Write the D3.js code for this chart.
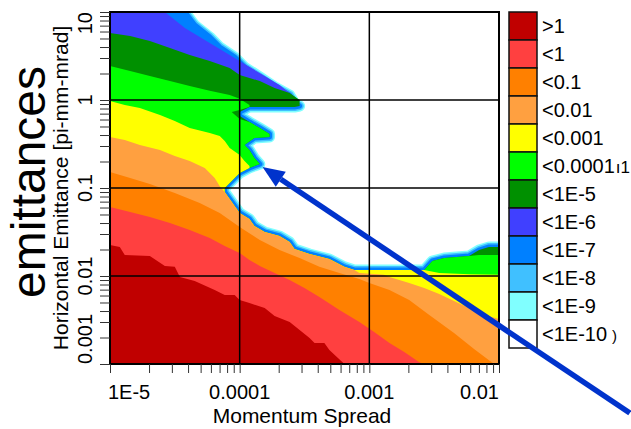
<!DOCTYPE html>
<html>
<head>
<meta charset="utf-8">
<script src="https://cdn.jsdelivr.net/npm/d3@7"></script>
<style>
  body { margin: 0; background: #fff; }
  svg { display: block; font-family: "Liberation Sans", Arial, sans-serif; }
</style>
</head>
<body>
<svg id="chart" width="631" height="429"></svg>
<script>
// axis ranges and ticks
const xDomain = [1e-5, 1e-2];
const yDomain = [1e-3, 10];
const xTickValues = [1e-5, 1e-4, 1e-3, 1e-2];
const xTickLabels = ["1E-5", "0.0001", "0.001", "0.01"];
const yTickValues = [1e-3, 1e-2, 1e-1, 1, 10];
const yTickLabels = ["0.001", "0.01", "0.1", "1", "10"];

// legend, top to bottom
const levelLabels = [">1", "<1", "<0.1", "<0.01", "<0.001", "<0.0001", "<1E-5", "<1E-6", "<1E-7", "<1E-8", "<1E-9", "<1E-10"];
const levelColors = ["#c00000", "#ff4040", "#ff8000", "#ffa040", "#ffff00", "#00ff00", "#009000", "#4040ff", "#0080ff", "#40c0ff", "#80ffff", "#ffffff"];

// contour edges, [momentum spread, emittance]
// outer edge of the coloured area (where it meets <1E-10)
const edgeTop = [[3.78e-5, 10], [4.50e-5, 7.12], [5.88e-5, 5.20], [7.02e-5, 4.00], [9.15e-5, 3.08], [1.09e-4, 2.37],
  [1.43e-4, 1.83], [1.86e-4, 1.41], [2.43e-4, 1.14], [2.65e-4, 0.924], [2.90e-4, 0.855]];
const edgeNotch = [[2.65e-4, 0.833], [1.19e-4, 0.833], [1.0e-4, 0.730], [1.0e-4, 0.658], [1.19e-4, 0.562], [1.43e-4, 0.481],
  [1.70e-4, 0.411], [1.70e-4, 0.380], [1.30e-4, 0.370], [1.09e-4, 0.308], [1.19e-4, 0.270], [1.30e-4, 0.219],
  [1.43e-4, 0.187], [1.30e-4, 0.178]];
const edgeKnee = [[1.19e-4, 0.169], [1.0e-4, 0.148], [9.15e-5, 0.130], [8.38e-5, 0.114], [7.67e-5, 0.1]];
const edgeLow = [[7.67e-5, 0.0901], [8.38e-5, 0.0750], [9.15e-5, 0.0624], [1.0e-4, 0.0520], [1.19e-4, 0.0445], [1.30e-4, 0.0370],
  [1.56e-4, 0.0316], [2.03e-4, 0.0285], [2.43e-4, 0.0243], [2.65e-4, 0.0203], [3.46e-4, 0.0178], [4.92e-4, 0.0156],
  [6.42e-4, 0.0127], [7.67e-4, 0.0117]];
const edgeRight = [[2.65e-3, 0.0117], [3.06e-3, 0.0148], [3.78e-3, 0.0160], [5.88e-3, 0.0169], [7.02e-3, 0.0197],
  [8.38e-3, 0.0214], [1e-2, 0.0214]];

// inner level boundaries
const violetTop = [[2.65e-5, 10], [3.78e-5, 6.58], [5.38e-5, 4.81], [7.67e-5, 3.51], [1.09e-4, 2.57], [1.56e-4, 1.87],
  [2.03e-4, 1.48], [2.65e-4, 1.08]];
const dkGreenTop = [[1e-5, 5.77], [1.43e-5, 5.34], [2.03e-5, 4.68], [2.90e-5, 3.90], [4.12e-5, 3.25], [5.88e-5, 2.77],
  [8.38e-5, 2.31], [1.0e-4, 1.92], [1.43e-4, 1.64], [1.86e-4, 1.37], [2.43e-4, 1.20], [2.90e-4, 1.0]];
const greenTop = [[1e-5, 2.43], [1.43e-5, 2.14], [2.03e-5, 1.87], [2.90e-5, 1.64], [4.12e-5, 1.44], [5.88e-5, 1.27],
  [8.38e-5, 1.14], [1.0e-4, 1.03], [1.19e-4, 0.877]];
const greenNotch = [[1.19e-4, 0.833], [1.0e-4, 0.769], [8.68e-5, 0.730], [1.0e-4, 0.608]];
const greenRight = [[2.65e-3, 0.0117], [3.06e-3, 0.0148], [3.78e-3, 0.0160], [5.88e-3, 0.0169], [7.02e-3, 0.0173],
  [1e-2, 0.0173]];
const yellowTop = [[1e-5, 0.974], [1.30e-5, 0.877], [1.70e-5, 0.811], [2.43e-5, 0.675], [3.16e-5, 0.577], [4.12e-5, 0.481],
  [5.88e-5, 0.422], [7.02e-5, 0.390], [7.67e-5, 0.342], [8.38e-5, 0.285], [1.0e-4, 0.237], [1.09e-4, 0.203], [1.19e-4, 0.178]];
const yellowRight = [[2.65e-3, 0.0117], [3.46e-3, 0.0108], [5.88e-3, 0.0105], [1e-2, 0.0103]];
const loTop = [[1e-5, 0.380], [1.30e-5, 0.351], [1.70e-5, 0.308], [2.43e-5, 0.270], [3.16e-5, 0.231], [4.12e-5, 0.203],
  [5.38e-5, 0.169], [6.42e-5, 0.130], [7.02e-5, 0.105]];
const loRight = [[8.38e-4, 0.0108], [1.30e-3, 0.0103], [1.43e-3, 0.00974], [2.03e-3, 0.00832], [2.65e-3, 0.00731],
  [3.46e-3, 0.00624], [4.50e-3, 0.00520], [5.88e-3, 0.00433], [7.67e-3, 0.00361], [1e-2, 0.00325]];
const orangeTop = [[1e-5, 0.152], [1.43e-5, 0.130], [2.03e-5, 0.111], [3.16e-5, 0.0877], [4.92e-5, 0.0676], [7.02e-5, 0.0520],
  [1.0e-4, 0.0360], [1.43e-4, 0.0257], [2.03e-4, 0.0197], [2.90e-4, 0.0160], [4.12e-4, 0.0127], [5.88e-4, 0.0108],
  [8.38e-4, 0.00925], [1.0e-3, 0.00832], [1.43e-3, 0.00694], [2.03e-3, 0.00534], [2.90e-3, 0.00361], [4.50e-3, 0.00225],
  [6.42e-3, 0.00148], [9.15e-3, 0.001]];
const redTop = [[1e-5, 0.0608], [1.43e-5, 0.0534], [2.03e-5, 0.0468], [2.90e-5, 0.0400], [4.12e-5, 0.0333], [5.88e-5, 0.0270],
  [7.67e-5, 0.0219], [1e-4, 0.0183], [1.19e-4, 0.0152], [1.43e-4, 0.0130], [1.86e-4, 0.0108], [2.43e-4, 0.00901],
  [3.16e-4, 0.00731], [4.12e-4, 0.00577], [5.88e-4, 0.00411], [8.38e-4, 0.00300], [1.09e-3, 0.00231], [1.43e-3, 0.00173],
  [1.86e-3, 0.00137], [2.43e-3, 0.00105], [2.65e-3, 0.001]];
const darkRedTop = [[1e-5, 0.0225], [1.19e-5, 0.0214], [1.30e-5, 0.0173], [2.03e-5, 0.0169], [2.65e-5, 0.0130], [3.16e-5, 0.0127],
  [3.46e-5, 0.00974], [4.50e-5, 0.00878], [6.42e-5, 0.00694], [7.67e-5, 0.00608], [9.15e-5, 0.00608], [1e-4, 0.00534],
  [1.19e-4, 0.00493], [1.56e-4, 0.00433], [1.86e-4, 0.00351], [2.43e-4, 0.00300], [2.90e-4, 0.00243], [3.46e-4, 0.00197],
  [3.78e-4, 0.00173], [4.50e-4, 0.00173], [4.92e-4, 0.00144], [6.42e-4, 0.001]];

// arrow annotation: tip then tail
const arrowPoints = [[1.50e-4, 0.173], [0.102, 2.77e-4]];

const svg = d3.select("#chart");
const plotLeft = 110, plotRight = 499, plotTop = 12, plotBottom = 364;

const x = d3.scaleLog().domain(xDomain).range([plotLeft, plotRight]);
const y = d3.scaleLog().domain(yDomain).range([plotBottom, plotTop]);

svg.append("clipPath").attr("id", "plotClip")
  .append("rect").attr("x", plotLeft).attr("y", plotTop)
  .attr("width", plotRight - plotLeft).attr("height", plotBottom - plotTop);

const line = d3.line().x(d => x(d[0])).y(d => y(d[1]));

// region with value >= level: everything below its upper boundary
function closeRegion(pts) {
  const out = [[xDomain[0], yDomain[0]]];
  if (pts[0][0] > xDomain[0]) out.push([xDomain[0], yDomain[1]]);
  out.push(...pts);
  const last = pts[pts.length - 1];
  if (last[1] > yDomain[0]) out.push([xDomain[1], yDomain[0]]);
  return line(out) + "Z";
}

const tip = edgeTop[edgeTop.length - 1];
const edgeRest = [...edgeNotch, ...edgeKnee, ...edgeLow, ...edgeRight];
const regions = [
  { level: 8, pts: [...edgeTop, ...edgeRest] },
  { level: 7, pts: [...violetTop, tip, ...edgeRest] },
  { level: 6, pts: [...dkGreenTop, tip, ...edgeRest] },
  { level: 5, pts: [...greenTop, ...greenNotch, ...edgeNotch.slice(4), ...edgeKnee, ...edgeLow, ...greenRight] },
  { level: 4, pts: [...yellowTop, ...edgeKnee, ...edgeLow, ...yellowRight] },
  { level: 3, pts: [...loTop, ...edgeLow, ...loRight] },
  { level: 2, pts: orangeTop },
  { level: 1, pts: redTop },
  { level: 0, pts: darkRedTop }
];

const plot = svg.append("g").attr("clip-path", "url(#plotClip)");
plot.append("rect").attr("x", plotLeft).attr("y", plotTop)
  .attr("width", plotRight - plotLeft).attr("height", plotBottom - plotTop)
  .attr("fill", levelColors[11]);

// thin <1E-9 / <1E-8 / <1E-7 fringe along the outer edge
const outer = closeRegion(regions[0].pts);
[[levelColors[10], 11], [levelColors[9], 8], [levelColors[8], 5]].forEach(([c, w]) => {
  plot.append("path").attr("d", outer).attr("fill", "none").attr("stroke", c)
    .attr("stroke-width", w).attr("stroke-linejoin", "round");
});

plot.selectAll("path.band")
  .data(regions)
  .enter()
  .append("path")
  .attr("class", "band")
  .attr("d", d => closeRegion(d.pts))
  .attr("fill", d => levelColors[d.level]);

// grid
const grid = svg.append("g").attr("stroke", "#000").attr("stroke-width", 1.5);
[1e-4, 1e-3].forEach(v => grid.append("line").attr("x1", x(v)).attr("x2", x(v)).attr("y1", plotTop).attr("y2", plotBottom));
[1e-2, 1e-1, 1].forEach(v => grid.append("line").attr("x1", plotLeft).attr("x2", plotRight).attr("y1", y(v)).attr("y2", y(v)));
svg.append("rect").attr("x", plotLeft).attr("y", plotTop)
  .attr("width", plotRight - plotLeft).attr("height", plotBottom - plotTop)
  .attr("fill", "none").attr("stroke", "#000").attr("stroke-width", 2);

// axes (minor ticks from the scales, labels only at decades)
svg.append("g").attr("transform", `translate(0,${plotBottom})`)
  .call(d3.axisBottom(x).tickValues(x.ticks()).tickSize(9).tickFormat(""))
  .call(g => g.select(".domain").remove())
  .call(g => g.selectAll("text").remove())
  .call(g => g.selectAll("line").attr("stroke", "#333"));
svg.append("g").attr("transform", `translate(${plotLeft},0)`)
  .call(d3.axisLeft(y).tickValues(y.ticks()).tickSize(10).tickFormat(""))
  .call(g => g.select(".domain").remove())
  .call(g => g.selectAll("text").remove())
  .call(g => g.selectAll("line").attr("stroke", "#333"));

svg.selectAll("text.xtick")
  .data(xTickValues)
  .enter()
  .append("text")
  .attr("class", "xtick")
  .attr("x", d => x(d))
  .attr("y", 399)
  .attr("font-size", 20)
  .attr("text-anchor", (d, i) => i === 0 ? "start" : i === xTickValues.length - 1 ? "end" : "middle")
  .attr("dx", (d, i) => i === 0 ? -2 : 0)
  .text((d, i) => xTickLabels[i]);

svg.selectAll("text.ytick")
  .data(yTickValues)
  .enter()
  .append("text")
  .attr("class", "ytick")
  .attr("transform", d => `translate(92,${y(d)}) rotate(-90)`)
  .attr("font-size", 20)
  .attr("text-anchor", (d, i) => i === 0 ? "start" : i === yTickValues.length - 1 ? "end" : "middle")
  .text((d, i) => yTickLabels[i]);

svg.append("text")
  .attr("x", 302).attr("y", 423)
  .attr("font-size", 21)
  .attr("text-anchor", "middle")
  .text("Momentum Spread");

svg.append("text")
  .attr("transform", "translate(68,188) rotate(-90)")
  .attr("font-size", 21)
  .attr("text-anchor", "middle")
  .text("Horizontal Emittance [pi-mm-mrad]");

svg.append("text")
  .attr("transform", "translate(45,182) rotate(-90)")
  .attr("font-size", 48)
  .attr("text-anchor", "middle")
  .text("emittances");

// legend
const legend = svg.append("g").attr("transform", "translate(509,12)");
const rows = legend.selectAll("g")
  .data(levelLabels)
  .enter()
  .append("g")
  .attr("transform", (d, i) => `translate(0,${i * 28})`);
rows.append("rect")
  .attr("width", 28).attr("height", 28)
  .attr("fill", (d, i) => levelColors[i])
  .attr("stroke", "#111").attr("stroke-width", 1.5);
const labels = rows.append("text")
  .attr("x", 33).attr("y", 21)
  .attr("font-size", 20)
  .text(d => d);
labels.filter((d, i) => i === 5).append("tspan").attr("font-size", 17).attr("dx", 1).text("ı1");
labels.filter((d, i) => i === 11).append("tspan").attr("font-size", 15).attr("dx", 5).text(")");

// arrow
const tipPx = [x(arrowPoints[0][0]), y(arrowPoints[0][1])];
const tailPx = [x(arrowPoints[1][0]), y(arrowPoints[1][1])];
const ang = Math.atan2(tailPx[1] - tipPx[1], tailPx[0] - tipPx[0]);
const headLen = 22, headHalf = 9;
const base = [tipPx[0] + headLen * Math.cos(ang), tipPx[1] + headLen * Math.sin(ang)];
svg.append("line")
  .attr("x1", base[0]).attr("y1", base[1]).attr("x2", tailPx[0]).attr("y2", tailPx[1])
  .attr("stroke", "#0033cc").attr("stroke-width", 5.5);
svg.append("path")
  .attr("d", d3.line()([
    tipPx,
    [base[0] - headHalf * Math.sin(ang), base[1] + headHalf * Math.cos(ang)],
    [base[0] + headHalf * Math.sin(ang), base[1] - headHalf * Math.cos(ang)]
  ]) + "Z")
  .attr("fill", "#0033cc");
</script>
</body>
</html>
